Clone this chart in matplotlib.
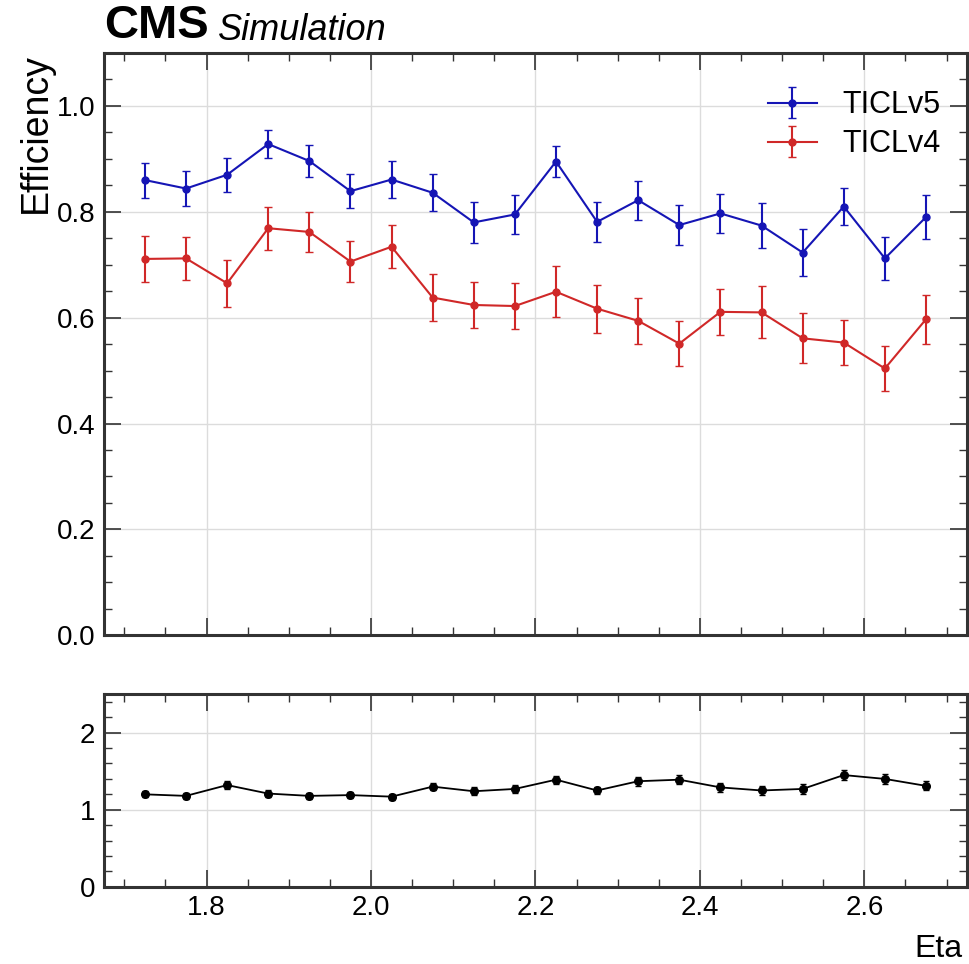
import numpy as np
import matplotlib.pyplot as plt
from matplotlib.ticker import MultipleLocator

plt.rcParams['font.family'] = ['Liberation Sans', 'DejaVu Sans']

# eta bin centres
eta = [1.725, 1.775, 1.825, 1.875, 1.925, 1.975, 2.025, 2.075, 2.125, 2.175,
       2.225, 2.275, 2.325, 2.375, 2.425, 2.475, 2.525, 2.575, 2.625, 2.675]

eff_v5 = [0.860, 0.844, 0.870, 0.928, 0.896, 0.839, 0.861, 0.836, 0.780, 0.795,
          0.895, 0.781, 0.822, 0.775, 0.797, 0.774, 0.723, 0.810, 0.712, 0.790]
err_v5 = [0.033, 0.033, 0.032, 0.026, 0.030, 0.032, 0.035, 0.035, 0.038, 0.036,
          0.030, 0.038, 0.037, 0.038, 0.037, 0.042, 0.045, 0.035, 0.041, 0.041]

eff_v4 = [0.711, 0.712, 0.665, 0.769, 0.762, 0.706, 0.734, 0.638, 0.624, 0.622,
          0.649, 0.617, 0.594, 0.551, 0.611, 0.610, 0.561, 0.553, 0.504, 0.597]
err_v4 = [0.043, 0.040, 0.044, 0.041, 0.037, 0.038, 0.041, 0.044, 0.044, 0.043,
          0.048, 0.045, 0.043, 0.042, 0.043, 0.049, 0.047, 0.043, 0.042, 0.046]

ratio = [1.20, 1.18, 1.32, 1.21, 1.18, 1.19, 1.17, 1.30, 1.24, 1.27,
         1.39, 1.25, 1.37, 1.39, 1.29, 1.25, 1.27, 1.45, 1.40, 1.31]
err_ratio = [0.04, 0.04, 0.05, 0.04, 0.04, 0.04, 0.04, 0.05, 0.05, 0.05,
             0.05, 0.05, 0.06, 0.06, 0.06, 0.06, 0.07, 0.07, 0.07, 0.06]

blue = '#1515b5'
red = '#d02828'

fig = plt.figure(figsize=(9.7, 9.64), dpi=100)
ax = fig.add_axes([0.107, 0.341, 0.890, 0.604])
rax = fig.add_axes([0.107, 0.080, 0.890, 0.200])


def style(a):
	a.tick_params(which='both', direction='in', top=True, right=True, labelsize=20, pad=6)
	a.tick_params(which='major', length=12, width=1.2, color='#333333')
	a.tick_params(which='minor', length=6, width=1.0, color='#333333')
	a.xaxis.set_major_locator(MultipleLocator(0.2))
	a.xaxis.set_minor_locator(MultipleLocator(0.05))
	a.grid(True, which='major', color='#dcdcdc', linewidth=1.0)
	a.set_axisbelow(True)
	for s in a.spines.values():
		s.set_linewidth(2.2)
		s.set_color('#333333')
	a.set_xlim(1.675, 2.725)


style(ax)
style(rax)

ax.errorbar(eta, eff_v5, yerr=err_v5, fmt='o-', color=blue, markersize=5,
	linewidth=1.5, elinewidth=1.5, capsize=3, label='TICLv5')
ax.errorbar(eta, eff_v4, yerr=err_v4, fmt='o-', color=red, markersize=5,
	linewidth=1.5, elinewidth=1.5, capsize=3, label='TICLv4')
ax.set_ylim(0, 1.1)
ax.yaxis.set_major_locator(MultipleLocator(0.2))
ax.yaxis.set_minor_locator(MultipleLocator(0.05))
ax.yaxis.set_major_formatter(plt.FormatStrFormatter('%.1f'))
ax.tick_params(labelbottom=False)
ax.set_ylabel('Efficiency', fontsize=27, loc='top', labelpad=2)
ax.legend(loc='upper right', bbox_to_anchor=(0.984, 0.957), borderaxespad=0,
	fontsize=22, frameon=False, handlelength=1.6, handletextpad=0.85, labelspacing=0.3)

ax.text(0.0, 1.008, 'CMS', transform=ax.transAxes, fontsize=34, fontweight='bold',
	ha='left', va='bottom')
ax.text(0.132, 1.009, 'Simulation', transform=ax.transAxes, fontsize=26, style='italic',
	ha='left', va='bottom')

rax.errorbar(eta, ratio, yerr=err_ratio, fmt='o-', color='black', markersize=5.5,
	linewidth=1.3, elinewidth=1.3, capsize=2.5)
rax.set_ylim(0, 2.5)
rax.yaxis.set_major_locator(MultipleLocator(1))
rax.yaxis.set_minor_locator(MultipleLocator(0.2))
rax.text(0.995, -0.245, 'Eta', transform=rax.transAxes, fontsize=23,
	ha='right', va='top')

fig.savefig('out.png', dpi=100)
